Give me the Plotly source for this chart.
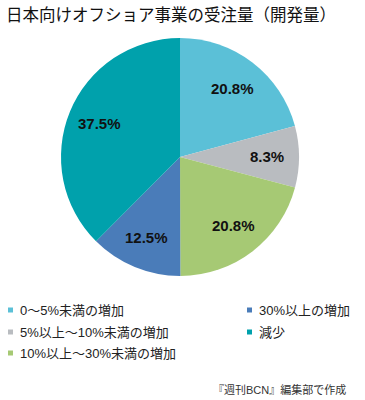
import math
import plotly.graph_objects as go

title = "日本向けオフショア事業の受注量（開発量）"
labels = ["0〜5%未満の増加", "5%以上〜10%未満の増加", "10%以上〜30%未満の増加", "30%以上の増加", "減少"]
values = [20.8, 8.3, 20.8, 12.5, 37.5]
colors = ["#5bc0d7", "#b9bcc0", "#a6c974", "#4a7cb9", "#00a1ac"]
source = "『週刊BCN』編集部で作成"

FONT = "Liberation Sans, Noto Sans CJK JP, sans-serif"

# body margin removed via post_script, so figure fills the page
W, H = 365, 400

def px(x):
    return x / W

def py(y):
    return 1 - y / H

CX, CY, R = 180, 157, 119  # pie centre/radius in page pixels

fig = go.Figure()
fig.add_trace(go.Pie(
    labels=labels,
    values=values,
    sort=False,
    direction="clockwise",
    rotation=0,
    marker=dict(colors=colors, line=dict(width=0)),
    textinfo="none",
    showlegend=False,
    hoverinfo="label+value",
    domain=dict(x=[px(CX - R), px(CX + R)], y=[py(CY + R), py(CY - R)]),
))

shapes = []
annotations = []

# slice value labels at slice mid-angles
total = sum(values)
cum = 0.0
for v in values:
    mid = (cum + v / 2) / total * 2 * math.pi
    cum += v
    r = 0.73 * R
    lx = CX + r * math.sin(mid)
    ly = CY - r * math.cos(mid)
    annotations.append(dict(text=f"<b>{v:.1f}%</b>", xref="paper", yref="paper",
                            x=px(lx), y=py(ly), xanchor="center", yanchor="middle",
                            showarrow=False,
                            font=dict(family=FONT, size=15, color="#111111")))

# legend
cols = [8, 247]
rows = [310, 332, 353]
slots = [(0, 0), (0, 1), (0, 2), (1, 0), (1, 1)]
for (c, rr), lab, col in zip(slots, labels, colors):
    x0 = cols[c]
    yc = rows[rr]
    shapes.append(dict(type="rect", xref="paper", yref="paper",
                       x0=px(x0), x1=px(x0 + 5),
                       y0=py(yc + 2.5), y1=py(yc - 2.5),
                       fillcolor=col, line=dict(width=0)))
    annotations.append(dict(text=lab, xref="paper", yref="paper",
                            x=px(x0 + 10), y=py(yc),
                            xanchor="left", yanchor="middle", showarrow=False,
                            font=dict(family=FONT, size=13, color="#222222")))

annotations.append(dict(text=title, xref="paper", yref="paper", x=px(4), y=py(15),
                        xanchor="left", yanchor="middle", showarrow=False,
                        font=dict(family=FONT, size=16.5, color="#111111")))
annotations.append(dict(text=source, xref="paper", yref="paper", x=px(348), y=py(389),
                        xanchor="right", yanchor="middle", showarrow=False,
                        font=dict(family=FONT, size=11, color="#333333")))

fig.update_layout(
    width=W, height=H,
    margin=dict(l=0, r=0, t=0, b=0),
    paper_bgcolor="white",
    plot_bgcolor="white",
    shapes=shapes,
    annotations=annotations,
)

fig.write_html("out.html",
               config={"displayModeBar": False},
               post_script="document.body.style.margin='0';document.body.style.padding='0';")
